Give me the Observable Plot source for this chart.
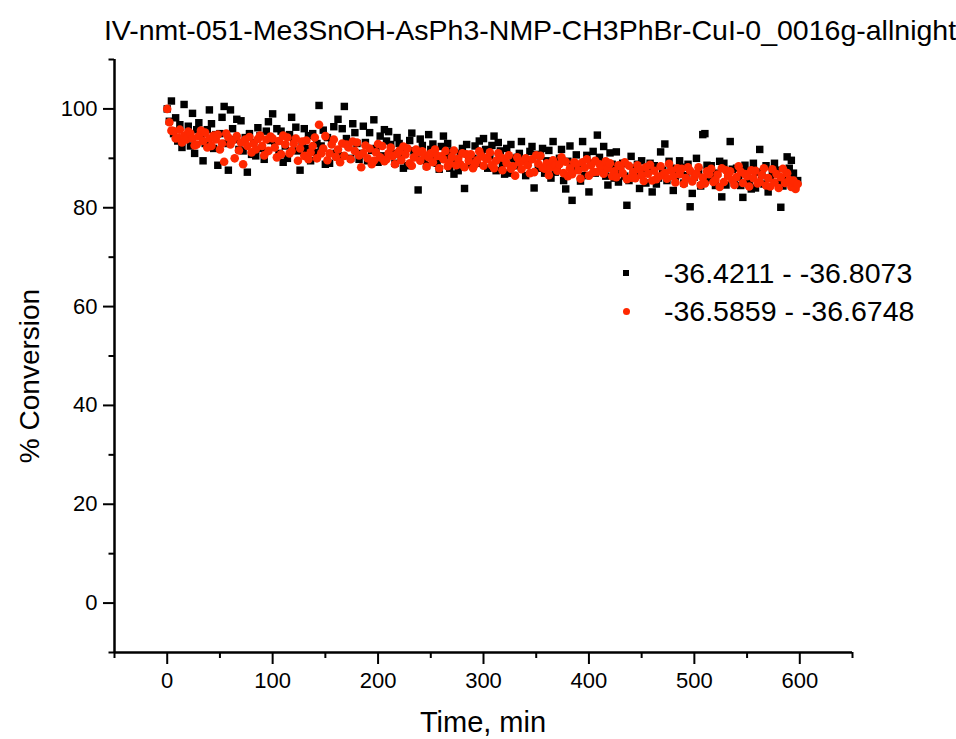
<!DOCTYPE html>
<html><head><meta charset="utf-8">
<script src="https://cdn.jsdelivr.net/npm/d3@7"></script>
<script src="https://cdn.jsdelivr.net/npm/@observablehq/plot@0.6"></script>
<style>
body{margin:0;background:#fff;font-family:"Liberation Sans",Arial,sans-serif;}
#wrap{position:relative;width:956px;height:739px;overflow:hidden;}
.t{position:absolute;white-space:nowrap;color:#000;line-height:1;}
</style>
</head><body><div id="wrap"></div>
<script>
const chartTitle = "IV-nmt-051-Me3SnOH-AsPh3-NMP-CH3PhBr-CuI-0_0016g-allnight";
const xLabel = "Time, min";
const yLabel = "% Conversion";
const seriesNames = ["-36.4211 - -36.8073", "-36.5859 - -36.6748"];
const seriesColors = ["#000000", "#ff2800"];
const xMajorTicks = [0, 100, 200, 300, 400, 500, 600];
const xMinorTicks = [-50, 50, 150, 250, 350, 450, 550, 650];
const yMajorTicks = [0, 20, 40, 60, 80, 100];
const yMinorTicks = [-10, 10, 30, 50, 70, 90, 110];

const times = [
0,2,4,6,8,10,12,14,16,18,20,22,24,26,28,30,32,34,36,38,
40,42,44,46,48,50,52,54,56,58,60,62,64,66,68,70,72,74,76,78,
80,82,84,86,88,90,92,94,96,98,100,102,104,106,108,110,112,114,116,118,
120,122,124,126,128,130,132,134,136,138,140,142,144,146,148,150,152,154,156,158,
160,162,164,166,168,170,172,174,176,178,180,182,184,186,188,190,192,194,196,198,
200,202,204,206,208,210,212,214,216,218,220,222,224,226,228,230,232,234,236,238,
240,242,244,246,248,250,252,254,256,258,260,262,264,266,268,270,272,274,276,278,
280,282,284,286,288,290,292,294,296,298,300,302,304,306,308,310,312,314,316,318,
320,322,324,326,328,330,332,334,336,338,340,342,344,346,348,350,352,354,356,358,
360,362,364,366,368,370,372,374,376,378,380,382,384,386,388,390,392,394,396,398,
400,402,404,406,408,410,412,414,416,418,420,422,424,426,428,430,432,434,436,438,
440,442,444,446,448,450,452,454,456,458,460,462,464,466,468,470,472,474,476,478,
480,482,484,486,488,490,492,494,496,498,500,502,504,506,508,510,512,514,516,518,
520,522,524,526,528,530,532,534,536,538,540,542,544,546,548,550,552,554,556,558,
560,562,564,566,568,570,572,574,576,578,580,582,584,586,588,590,592,594,596,598];

const blackValues = [
100.0,97.5,101.6,95.0,98.2,93.5,96.8,92.2,100.9,94.0,96.5,92.5,99.1,91.0,95.8,97.2,94.5,89.5,93.0,95.8,
99.8,97.0,92.0,94.8,88.6,95.0,98.3,100.5,93.0,87.6,99.8,96.0,93.8,97.9,91.8,97.6,91.5,94.2,87.2,95.0,
90.8,93.2,90.5,96.2,94.6,92.0,89.8,95.5,97.4,93.6,99.0,93.4,96.0,91.0,95.5,89.2,92.5,90.0,94.8,98.3,
94.0,96.3,91.5,87.6,92.8,96.0,92.0,94.6,89.5,95.0,91.2,93.0,100.7,92.5,95.7,88.8,94.2,89.0,93.5,96.4,
91.0,97.9,90.5,96.0,100.5,94.0,92.5,90.0,97.0,95.2,93.0,89.8,91.0,96.5,93.2,89.5,95.2,91.6,97.8,92.0,
89.2,94.5,90.5,95.8,93.5,95.4,92.8,91.0,89.0,94.2,93.0,90.5,88.0,92.0,88.5,93.6,95.1,91.5,90.2,83.6,
93.9,92.6,90.0,88.5,94.8,91.8,92.9,90.6,89.0,87.8,92.4,94.5,90.5,93.0,88.0,91.5,86.8,89.5,87.5,91.0,
92.0,83.9,92.8,90.5,88.8,90.0,92.5,89.0,93.5,91.0,94.0,91.8,88.0,90.5,92.6,94.5,87.5,93.2,91.5,89.0,
86.8,92.0,87.0,92.8,90.0,88.5,90.2,91.0,93.4,89.6,86.5,89.5,91.4,92.4,84.0,90.8,88.0,90.5,92.0,87.0,
89.5,91.6,86.0,93.4,87.2,88.5,90.0,91.8,85.5,83.8,89.4,92.5,81.5,87.6,90.7,88.0,85.4,93.4,86.5,90.6,
83.2,89.0,91.4,87.0,94.7,90.2,88.5,92.4,86.4,84.6,91.1,88.8,86.0,91.3,85.2,87.5,89.0,86.4,80.5,85.5,
90.4,88.0,86.5,88.8,83.9,89.5,87.2,85.0,87.5,89.0,83.2,88.5,84.8,86.0,91.3,87.6,92.9,85.5,89.4,88.0,
83.5,85.8,87.0,89.5,88.2,85.0,86.5,88.8,80.2,82.9,86.2,90.0,87.5,84.4,94.8,95.0,88.6,86.0,88.5,86.9,
84.5,87.0,89.4,82.2,89.0,84.6,86.5,93.4,87.8,85.0,88.0,86.2,84.5,82.1,88.6,87.5,85.5,83.8,89.0,84.0,
87.2,91.8,86.5,84.8,88.5,83.2,86.0,87.0,89.0,87.6,85.0,80.1,84.4,86.0,90.3,88.0,89.6,87.0,84.6,85.5];

const redValues = [
100.0,97.3,95.6,95.5,94.0,94.2,95.8,93.2,94.5,93.8,95.4,95.0,94.0,92.6,92.8,94.5,95.6,93.5,95.2,92.2,
94.0,92.5,94.6,93.8,94.8,91.8,93.0,89.3,95.0,94.2,92.8,93.6,90.0,94.5,91.6,93.2,88.8,93.8,92.5,94.3,
91.2,93.0,91.8,93.9,94.6,92.5,90.6,93.8,91.5,94.4,94.0,92.2,90.2,93.5,90.8,94.6,92.8,94.2,91.0,91.5,
93.0,94.0,89.5,92.0,93.4,90.5,93.6,89.8,91.2,92.5,94.2,90.0,96.8,91.0,92.0,94.5,89.6,91.0,92.8,93.8,
90.3,91.8,89.2,93.0,90.5,92.8,92.2,89.8,93.4,91.5,93.2,90.6,88.2,91.0,92.6,90.0,92.0,88.8,89.5,91.2,
92.9,90.2,92.5,89.4,89.8,91.0,92.2,90.5,88.8,90.9,91.5,89.6,92.4,90.8,92.0,89.0,88.5,90.2,91.8,91.2,
89.5,91.4,90.6,88.3,90.2,91.0,89.2,91.8,90.5,88.0,90.4,89.8,91.5,88.4,89.0,90.3,91.6,88.6,89.9,88.8,
91.0,88.2,90.8,89.5,90.8,88.0,88.8,89.6,91.4,90.5,88.5,90.0,89.8,91.2,88.6,88.0,89.5,91.0,90.2,87.6,
89.9,89.0,90.6,87.9,88.4,86.5,90.2,89.2,87.8,89.4,90.0,88.6,87.0,89.8,87.2,90.6,88.9,90.5,88.1,87.9,
89.0,86.6,88.2,89.6,88.6,87.5,88.8,90.2,87.0,89.3,86.4,88.0,86.8,89.2,88.9,87.6,85.9,89.2,88.1,89.8,
86.5,88.6,87.2,89.5,87.3,88.8,88.4,86.9,89.4,88.0,89.0,86.4,87.4,86.2,88.6,88.3,87.0,89.2,85.8,88.5,
86.1,87.2,86.0,88.6,87.8,86.6,85.4,88.2,86.9,88.7,85.5,87.5,85.8,86.3,88.4,86.6,87.0,85.9,88.9,87.6,
86.4,85.1,88.0,86.8,87.9,84.8,86.0,88.2,87.5,85.3,86.2,86.9,88.2,84.6,86.1,84.9,87.4,86.8,87.9,85.2,
85.6,86.7,84.2,88.0,85.2,87.6,86.5,87.4,85.6,84.6,86.2,88.4,87.3,85.0,86.8,86.4,84.3,87.6,86.0,87.5,
84.9,85.2,86.6,88.0,84.5,86.0,84.3,87.8,85.1,86.8,84.0,86.2,87.9,85.0,87.0,85.6,84.2,85.5,83.8,84.8];

const blackData = times.map((t, i) => ({t, v: blackValues[i]}));
const redData = times.map((t, i) => ({t, v: redValues[i]}));

const font = "Liberation Sans, Arial, sans-serif";
const chart = Plot.plot({
  width: 956, height: 739,
  marginLeft: 114, marginRight: 104, marginTop: 59, marginBottom: 87,
  x: {domain: [-50, 650]},
  y: {domain: [-10, 110]},
  style: {fontFamily: font, color: "#000", background: "#fff", overflow: "visible"},
  marks: [
    Plot.axisX({ticks: xMajorTicks, tickSize: 12, tickPadding: 8, fontSize: 22, strokeWidth: 2, label: null}),
    Plot.axisX({ticks: xMinorTicks, tickSize: 6, tickFormat: () => "", strokeWidth: 2, label: null}),
    Plot.axisY({ticks: yMajorTicks, tickSize: 11, tickPadding: 6, fontSize: 22, strokeWidth: 2, label: null}),
    Plot.axisY({ticks: yMinorTicks, tickSize: 5.5, tickFormat: () => "", strokeWidth: 2, label: null}),
    Plot.ruleX([-50], {strokeWidth: 2.5, stroke: "#000"}),
    Plot.ruleY([-10], {strokeWidth: 2.5, stroke: "#000"}),
    Plot.dot(blackData, {x: "t", y: "v", symbol: "square", r: 4.2, fill: seriesColors[0], stroke: "none"}),
    Plot.dot(redData, {x: "t", y: "v", symbol: "circle", r: 4.3, fill: seriesColors[1], stroke: "none"})
  ]
});
const wrap = document.getElementById("wrap");
wrap.appendChild(chart);

function addText(txt, css) {
  const d = document.createElement("div");
  d.className = "t";
  d.textContent = txt;
  Object.assign(d.style, css);
  wrap.appendChild(d);
  return d;
}
addText(chartTitle, {left: "530px", top: "30px", fontSize: "28.5px", transform: "translate(-50%,-50%)"});
addText(xLabel, {left: "483px", top: "722px", fontSize: "29px", transform: "translate(-50%,-50%)"});
addText(yLabel, {left: "30px", top: "376px", fontSize: "28px", transform: "translate(-50%,-50%) rotate(-90deg)"});

// legend
const legendRows = [{y: 273, shape: "square"}, {y: 311, shape: "circle"}];
legendRows.forEach((row, i) => {
  const m = document.createElement("div");
  m.style.position = "absolute";
  const s = row.shape === "square" ? 6 : 7;
  m.style.width = s + "px"; m.style.height = s + "px";
  m.style.left = (626 - s / 2) + "px"; m.style.top = (row.y - s / 2) + "px";
  m.style.background = seriesColors[i];
  if (row.shape === "circle") m.style.borderRadius = "50%";
  wrap.appendChild(m);
  addText(seriesNames[i], {left: "664px", top: row.y + "px", fontSize: "28.5px", transform: "translateY(-50%)"});
});
</script>
</body></html>
